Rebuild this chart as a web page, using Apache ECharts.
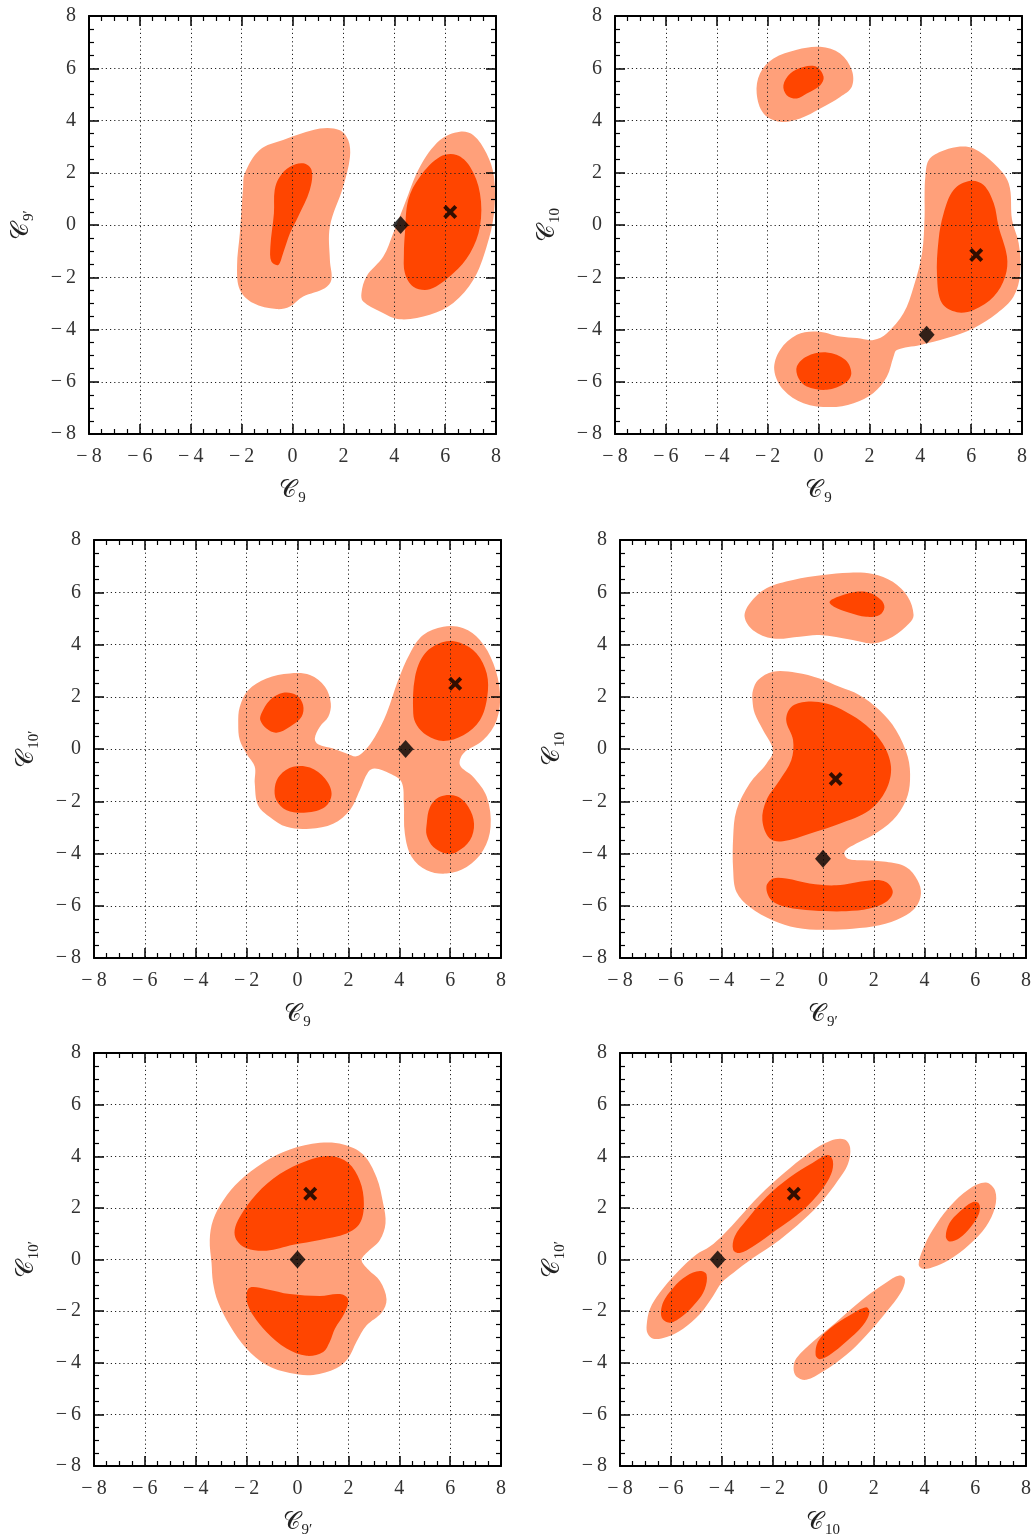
<!DOCTYPE html>
<html><head><meta charset="utf-8">
<script src="https://cdn.jsdelivr.net/npm/echarts@6/dist/echarts.min.js"></script>
<style>html,body{margin:0;padding:0;background:#fff}#c{width:1034px;height:1539px}</style>
</head><body><div id="c"></div>
<script>
// ---- axis ticks ----
const tickValues = [-8, -6, -4, -2, 0, 2, 4, 6, 8];

// ---- Panel 1: C9 vs C9' ----
const p1OuterL = [[-1.88,1.97],[-1.29,2.87],[-0.37,3.25],[1.08,3.69],[1.86,3.63],[2.19,3.25],[2.26,2.61],[1.99,1.46],[1.47,-0.06],[1.47,-1.34],[1.53,-2.10],[1.27,-2.42],[0.42,-2.74],[-0.10,-3.12],[-0.63,-3.22],[-1.55,-2.99],[-2.07,-2.48],[-2.18,-1.59],[-2.07,-0.32],[-1.94,1.46]];
const p1InnerL = [[-0.50,1.85],[-0.10,2.23],[0.42,2.36],[0.75,2.10],[0.68,1.34],[0.22,0.32],[-0.10,-0.32],[-0.37,-1.08],[-0.56,-1.53],[-0.83,-1.40],[-0.87,-0.83],[-0.73,0.45],[-0.70,1.34]];
const p1OuterR = [[2.71,-2.61],[2.91,-1.97],[3.57,-1.21],[3.96,-0.32],[4.42,0.83],[5.01,2.23],[5.80,3.25],[6.58,3.57],[7.11,3.44],[7.63,2.74],[7.92,1.85],[7.92,0.45],[7.63,-0.83],[7.11,-2.10],[6.32,-2.99],[5.40,-3.44],[4.22,-3.61],[3.44,-3.31],[2.78,-2.93]];
const p1InnerR = [[4.42,-0.32],[4.55,0.96],[5.01,1.85],[5.80,2.61],[6.45,2.68],[6.98,2.23],[7.37,1.21],[7.37,-0.06],[6.98,-1.08],[6.32,-1.85],[5.40,-2.46],[4.75,-2.36],[4.42,-1.85],[4.38,-1.08]];
const p1Best = [6.2, 0.5];
const p1Dia = [4.25, 0];

// ---- Panel 2: C9 vs C10 ----
const p2OuterTop = [[-2.43,5.03],[-2.30,5.80],[-1.77,6.37],[-0.85,6.71],[0.07,6.82],[0.85,6.56],[1.31,5.92],[1.31,5.29],[0.85,4.90],[0.07,4.46],[-0.72,4.08],[-1.51,3.95],[-2.16,4.27]];
const p2InnerTop = [[-1.38,5.35],[-1.11,5.80],[-0.59,6.05],[-0.07,6.05],[0.20,5.67],[0.07,5.35],[-0.46,5.03],[-0.85,4.84],[-1.25,4.97]];
const p2OuterMain = [[4.20,1.85],[4.33,2.48],[4.79,2.80],[5.44,2.99],[6.10,2.93],[6.89,2.36],[7.48,1.59],[7.61,0.19],[7.87,-0.70],[7.93,-1.85],[7.67,-2.74],[7.02,-3.38],[6.10,-3.95],[5.05,-4.33],[4.00,-4.59],[3.08,-4.78],[2.95,-5.03],[2.69,-5.80],[2.16,-6.43],[1.38,-6.82],[0.46,-6.97],[-0.59,-6.82],[-1.38,-6.31],[-1.74,-5.54],[-1.51,-4.78],[-0.85,-4.20],[-0.07,-4.08],[0.85,-4.27],[1.51,-4.33],[2.16,-4.40],[2.69,-4.14],[3.34,-3.38],[3.74,-2.36],[4.07,-1.08],[4.17,0.32],[4.17,1.21]];
const p2InnerMain = [[4.66,-1.97],[4.72,-0.57],[4.92,0.45],[5.31,1.34],[5.97,1.69],[6.49,1.53],[6.89,0.83],[7.08,-0.06],[7.41,-1.21],[7.34,-1.97],[6.89,-2.74],[6.10,-3.25],[5.44,-3.34],[4.85,-2.99]];
const p2InnerBottom = [[-0.85,-5.41],[-0.46,-5.03],[0.33,-4.88],[1.05,-5.16],[1.29,-5.67],[1.05,-6.05],[0.33,-6.31],[-0.46,-6.18],[-0.79,-5.86]];
const p2Best = [6.2, -1.15];
const p2Dia = [4.25, -4.2];

// ---- Panel 3: C9 vs C10' ----
const p3Outer = [[-2.27,1.61],[-1.94,2.25],[-1.22,2.70],[-0.30,2.89],[0.49,2.83],[1.08,2.38],[1.31,1.74],[1.21,1.23],[0.88,0.85],[0.68,0.40],[0.81,0.18],[1.40,0.02],[1.93,-0.17],[2.32,-0.28],[2.65,-0.05],[3.04,0.46],[3.50,1.36],[3.96,2.64],[4.42,3.66],[4.94,4.36],[5.73,4.68],[6.52,4.62],[7.17,4.17],[7.70,3.27],[7.96,2.13],[7.83,1.10],[7.30,0.34],[6.52,-0.17],[6.39,-0.62],[6.91,-1.07],[7.44,-1.83],[7.59,-2.98],[7.30,-3.88],[6.65,-4.52],[5.86,-4.77],[5.08,-4.64],[4.49,-4.13],[4.22,-3.24],[4.18,-2.09],[4.09,-1.26],[3.63,-0.94],[3.04,-0.75],[2.78,-0.88],[2.45,-1.58],[2.06,-2.34],[1.40,-2.86],[0.49,-3.05],[-0.43,-2.98],[-1.09,-2.60],[-1.55,-2.15],[-1.68,-1.32],[-1.68,-0.68],[-2.01,-0.17],[-2.27,0.34],[-2.33,0.98]];
const p3InnerA = [[-1.42,1.36],[-1.09,1.87],[-0.56,2.15],[-0.04,2.06],[0.22,1.68],[0.16,1.23],[-0.30,0.85],[-0.83,0.62],[-1.22,0.78],[-1.46,1.10]];
const p3InnerB = [[-0.89,-1.45],[-0.69,-1.00],[-0.17,-0.68],[0.49,-0.71],[1.08,-1.13],[1.34,-1.71],[1.08,-2.22],[0.35,-2.43],[-0.43,-2.34],[-0.83,-1.96]];
const p3InnerC = [[4.55,1.36],[4.62,2.76],[5.01,3.66],[5.73,4.10],[6.39,4.07],[7.04,3.66],[7.44,2.89],[7.46,2.00],[7.17,1.10],[6.52,0.53],[5.73,0.31],[5.08,0.53],[4.69,0.91]];
const p3InnerD = [[5.08,-2.86],[5.21,-2.22],[5.60,-1.83],[6.26,-1.81],[6.72,-2.22],[6.94,-2.86],[6.78,-3.49],[6.26,-3.94],[5.86,-4.01],[5.34,-3.75],[5.08,-3.30]];
const p3Best = [6.2, 2.5];
const p3Dia = [4.25, 0];

// ---- Panel 4: C9' vs C10 ----
const p4OuterTop = [[-3.09,5.06],[-2.89,5.57],[-2.23,6.15],[-1.18,6.47],[0.0,6.66],[1.04,6.75],[1.96,6.70],[2.75,6.40],[3.34,5.83],[3.57,5.13],[3.40,4.81],[2.75,4.30],[1.96,4.04],[1.17,4.17],[-0.14,4.36],[-0.92,4.30],[-1.97,4.23],[-2.76,4.55]];
const p4InnerTop = [[0.26,5.64],[0.65,5.85],[1.31,6.02],[1.83,5.98],[2.29,5.70],[2.42,5.42],[2.23,5.13],[1.70,5.06],[1.04,5.22],[0.45,5.44]];
const p4OuterMain = [[-2.76,2.25],[-2.56,2.64],[-1.97,2.96],[-1.05,2.92],[-0.14,2.70],[0.65,2.38],[1.44,2.06],[2.22,1.49],[2.88,0.72],[3.34,-0.30],[3.43,-1.20],[3.27,-1.96],[2.75,-2.73],[1.96,-3.30],[1.31,-3.62],[0.85,-3.94],[0.98,-4.20],[1.57,-4.26],[2.48,-4.32],[3.27,-4.52],[3.73,-5.03],[3.86,-5.54],[3.66,-6.05],[3.14,-6.43],[2.22,-6.75],[1.17,-6.88],[0.0,-6.92],[-1.05,-6.84],[-1.97,-6.56],[-2.89,-6.05],[-3.41,-5.47],[-3.54,-4.64],[-3.54,-3.37],[-3.41,-2.34],[-2.89,-1.32],[-2.23,-0.56],[-1.97,-0.05],[-2.36,0.72],[-2.69,1.36],[-2.78,1.87]];
const p4InnerMain = [[-1.45,1.10],[-1.25,1.61],[-0.66,1.81],[0.13,1.74],[0.91,1.42],[1.70,0.91],[2.35,0.21],[2.68,-0.68],[2.48,-1.58],[1.83,-2.34],[0.65,-2.86],[-0.53,-3.24],[-1.58,-3.53],[-2.10,-3.43],[-2.39,-2.73],[-2.23,-1.96],[-1.71,-1.20],[-1.25,-0.43],[-1.18,0.34]];
const p4InnerBottom = [[-2.23,-5.28],[-1.97,-4.96],[-1.45,-4.96],[-0.53,-5.15],[0.52,-5.22],[1.83,-5.03],[2.48,-5.09],[2.75,-5.47],[2.48,-5.86],[1.83,-6.11],[0.91,-6.21],[-0.40,-6.18],[-1.45,-6.05],[-2.03,-5.79]];
const p4Best = [0.5, -1.15];
const p4Dia = [0, -4.2];

// ---- Panel 5: C9' vs C10' ----
const p5Outer = [[-3.45,0.76],[-3.32,1.52],[-2.92,2.29],[-2.27,3.05],[-1.35,3.75],[-0.30,4.26],[0.88,4.52],[1.80,4.46],[2.58,4.07],[3.11,3.18],[3.37,2.16],[3.46,1.40],[3.24,0.76],[2.71,0.25],[2.52,-0.03],[2.78,-0.39],[3.24,-0.83],[3.50,-1.54],[3.31,-2.05],[2.71,-2.56],[2.32,-3.19],[1.99,-3.83],[1.53,-4.21],[0.62,-4.47],[-0.30,-4.40],[-1.22,-4.09],[-2.01,-3.45],[-2.66,-2.56],[-3.12,-1.66],[-3.32,-0.90],[-3.38,-0.13]];
const p5InnerA = [[-2.47,1.14],[-2.27,1.65],[-1.61,2.54],[-0.70,3.31],[0.35,3.82],[1.27,4.01],[1.99,3.75],[2.45,3.05],[2.61,2.16],[2.45,1.40],[1.93,1.01],[0.88,0.76],[-0.17,0.57],[-1.22,0.34],[-2.01,0.44],[-2.40,0.76]];
const p5InnerB = [[-2.01,-1.41],[-1.88,-1.09],[-1.22,-1.15],[-0.30,-1.34],[0.88,-1.41],[1.67,-1.34],[1.99,-1.54],[1.86,-2.05],[1.47,-2.68],[1.27,-3.19],[1.01,-3.58],[0.35,-3.73],[-0.43,-3.45],[-1.22,-2.81],[-1.74,-2.17],[-1.94,-1.79]];
const p5Best = [0.5, 2.55];
const p5Dia = [0, 0];

// ---- Panel 6: C10 vs C10' ----
const p6OuterA = [[-6.95,-2.56],[-6.82,-1.92],[-6.43,-1.28],[-5.77,-0.52],[-4.99,0.19],[-4.46,0.50],[-3.94,0.95],[-3.28,1.65],[-2.50,2.48],[-1.58,3.31],[-0.53,4.14],[0.32,4.61],[0.85,4.65],[1.07,4.33],[0.98,3.69],[0.58,3.05],[-0.01,2.29],[-0.79,1.52],[-1.71,0.76],[-2.76,0.06],[-3.54,-0.52],[-4.00,-0.90],[-4.33,-1.41],[-4.85,-2.11],[-5.51,-2.68],[-6.16,-3.00],[-6.69,-3.07],[-6.91,-2.87]];
const p6InnerA1 = [[-3.54,0.38],[-3.48,0.89],[-3.02,1.52],[-2.23,2.42],[-1.32,3.18],[-0.40,3.75],[0.19,4.05],[0.39,3.82],[0.32,3.31],[-0.07,2.67],[-0.79,1.91],[-1.84,1.14],[-2.76,0.50],[-3.28,0.25]];
const p6InnerA2 = [[-6.36,-2.24],[-6.30,-1.66],[-5.90,-1.09],[-5.38,-0.64],[-4.85,-0.45],[-4.59,-0.58],[-4.66,-1.15],[-4.99,-1.66],[-5.51,-2.17],[-6.03,-2.45]];
const p6OuterB = [[-1.16,-4.21],[-1.05,-3.83],[-0.40,-3.19],[0.52,-2.43],[1.57,-1.54],[2.48,-0.90],[3.01,-0.62],[3.23,-0.77],[3.07,-1.28],[2.48,-2.05],[1.70,-2.94],[0.91,-3.70],[0.0,-4.34],[-0.66,-4.66],[-1.05,-4.53]];
const p6InnerB = [[-0.29,-3.70],[-0.20,-3.19],[0.26,-2.68],[1.04,-2.17],[1.70,-1.85],[1.83,-2.05],[1.57,-2.56],[0.91,-3.19],[0.26,-3.70],[-0.13,-3.86]];
const p6OuterC = [[3.77,-0.20],[3.93,0.38],[4.32,1.14],[4.98,2.03],[5.76,2.73],[6.42,2.98],[6.78,2.67],[6.78,2.03],[6.42,1.27],[5.76,0.57],[4.98,-0.01],[4.32,-0.30],[3.93,-0.36]];
const p6InnerC = [[4.84,0.89],[4.98,1.40],[5.37,1.84],[5.89,2.22],[6.15,2.16],[6.15,1.78],[5.83,1.27],[5.37,0.82],[4.98,0.70]];
const p6Best = [-1.15, 2.55];
const p6Dia = [-4.15, 0];

// ---- axis subscripts ----
const xSubs = ['9', '9', '9', '9′', '9′', '10'];
const ySubs = ['9′', '10', '10′', '10', '10′', '10′'];

const panels = [
  { outer: [p1OuterL, p1OuterR], inner: [p1InnerL, p1InnerR], best: p1Best, dia: p1Dia },
  { outer: [p2OuterTop, p2OuterMain], inner: [p2InnerTop, p2InnerMain, p2InnerBottom], best: p2Best, dia: p2Dia },
  { outer: [p3Outer], inner: [p3InnerA, p3InnerB, p3InnerC, p3InnerD], best: p3Best, dia: p3Dia },
  { outer: [p4OuterTop, p4OuterMain], inner: [p4InnerTop, p4InnerMain, p4InnerBottom], best: p4Best, dia: p4Dia },
  { outer: [p5Outer], inner: [p5InnerA, p5InnerB], best: p5Best, dia: p5Dia },
  { outer: [p6OuterA, p6OuterB, p6OuterC], inner: [p6InnerA1, p6InnerA2, p6InnerB, p6InnerC], best: p6Best, dia: p6Dia }
];

// ---- layout (pixels) ----
const gridPos = [[89, 16], [615, 16], [94, 540], [620, 540], [94, 1053], [620, 1053]];
const GW = 407, GH = 418;
const OUTER_COLOR = '#FFA07A', INNER_COLOR = '#FF4500';
const serif = "'Liberation Serif', 'DejaVu Serif', serif";

const tMin = tickValues[0], tMax = tickValues[tickValues.length - 1];
const tInt = tickValues[1] - tickValues[0];

function fmt(v) { return v < 0 ? '\u2212\u2009' + (-v) : String(v); }

const nameRich = {
  c: { fontFamily: "'DejaVu Sans', 'DejaVu Serif', serif", fontSize: 24, lineHeight: 30, color: '#222' },
  s: { fontFamily: serif, fontSize: 15, lineHeight: 14, verticalAlign: 'bottom', color: '#222', padding: [0, 0, 0, 1] }
};

function baseAxis(gi, pos, main, name) {
  return {
    type: 'value', gridIndex: gi, position: pos,
    min: tMin, max: tMax, interval: tInt, z: 3,
    name: main ? name : '', nameLocation: 'middle',
    nameGap: (pos === 'bottom') ? 42 : 52,
    nameMoveOverlap: false,
    nameTextStyle: { rich: nameRich },
    axisLine: { show: true, onZero: false, lineStyle: { color: '#000', width: 2 } },
    axisTick: { show: true, inside: true, length: 10, lineStyle: { color: '#000', width: 1.5 } },
    minorTick: { show: true, splitNumber: 4, length: 5, lineStyle: { color: '#000', width: 1.2 } },
    axisLabel: { show: main, margin: 13, fontFamily: serif, fontSize: 20, color: '#333', formatter: fmt },
    splitLine: { show: main, lineStyle: { color: '#222', width: 1, type: [1.2, 3] } },
    minorSplitLine: { show: false }
  };
}

const grid = [], xAxis = [], yAxis = [], series = [];
panels.forEach((p, i) => {
  grid.push({ left: gridPos[i][0], top: gridPos[i][1], width: GW, height: GH });
  xAxis.push(baseAxis(i, 'bottom', true, '{c|𝒞}{s|' + xSubs[i] + '}'));
  xAxis.push(baseAxis(i, 'top', false, ''));
  yAxis.push(baseAxis(i, 'left', true, '{c|𝒞}{s|' + ySubs[i] + '}'));
  yAxis.push(baseAxis(i, 'right', false, ''));
  const xi = i * 2, yi = i * 2;
  const addPoly = (pts, color, z) => {
    series.push({
      type: 'custom', xAxisIndex: xi, yAxisIndex: yi, z: z, silent: true, clip: true,
      data: pts, encode: { x: 0, y: 1 },
      renderItem: (params, api) => {
        if (params.dataIndex !== 0) return null;
        const pix = pts.map(q => api.coord(q));
        return { type: 'polygon', shape: { points: pix, smooth: 0.35 }, style: { fill: color, stroke: null } };
      }
    });
  };
  p.outer.forEach(o => addPoly(o, OUTER_COLOR, 1));
  p.inner.forEach(o => addPoly(o, INNER_COLOR, 2));
  series.push({
    type: 'scatter', xAxisIndex: xi, yAxisIndex: yi, z: 5, silent: true,
    data: [p.best],
    symbol: 'path://M2,0 L5,3 L8,0 L10,2 L7,5 L10,8 L8,10 L5,7 L2,10 L0,8 L3,5 L0,2 Z',
    symbolSize: 14, itemStyle: { color: '#000' }
  });
  series.push({
    type: 'scatter', xAxisIndex: xi, yAxisIndex: yi, z: 5, silent: true,
    data: [p.dia], symbol: 'diamond', symbolSize: [16, 18], itemStyle: { color: '#000' }
  });
});

const chart = echarts.init(document.getElementById('c'), null, { renderer: 'canvas' });
chart.setOption({ animation: false, backgroundColor: '#fff', grid, xAxis, yAxis, series });
</script>
</body></html>
